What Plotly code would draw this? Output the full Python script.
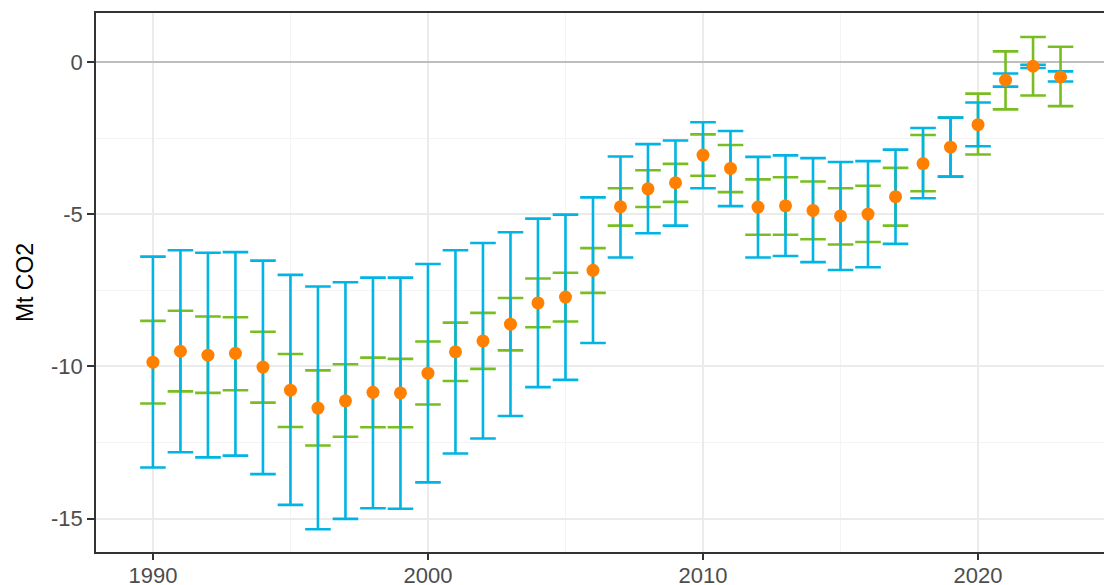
import plotly.graph_objects as go

years = list(range(1990, 2024))

estimate = [-9.86, -9.50, -9.63, -9.57, -10.02, -10.78, -11.37, -11.13, -10.85, -10.87,
            -10.22, -9.52, -9.16, -8.61, -7.91, -7.72, -6.84, -4.75, -4.16, -3.96,
            -3.05, -3.49, -4.76, -4.72, -4.87, -5.05, -4.99, -4.42, -3.33, -2.79,
            -2.05, -0.59, -0.13, -0.48]

blue_upper = [-6.39, -6.18, -6.26, -6.24, -6.52, -6.99, -7.37, -7.23, -7.08, -7.08,
              -6.63, -6.18, -5.94, -5.59, -5.14, -5.01, -4.44, -3.10, -2.69, -2.57,
              -1.97, -2.26, -3.11, -3.06, -3.15, -3.28, -3.25, -2.87, -2.16, -1.82,
              -1.32, -0.37, -0.08, -0.30]
blue_lower = [-13.32, -12.82, -12.99, -12.93, -13.54, -14.55, -15.35, -15.01, -14.66, -14.68,
              -13.81, -12.86, -12.37, -11.63, -10.68, -10.44, -9.23, -6.42, -5.62, -5.37,
              -4.14, -4.73, -6.42, -6.37, -6.57, -6.83, -6.74, -5.97, -4.47, -3.76,
              -2.76, -0.80, -0.19, -0.63]

green_upper = [-8.50, -8.17, -8.36, -8.38, -8.86, -9.59, -10.13, -9.93, -9.71, -9.75,
               -9.18, -8.56, -8.24, -7.75, -7.11, -6.92, -6.11, -4.14, -3.55, -3.34,
               -2.37, -2.72, -3.85, -3.78, -3.92, -4.14, -4.06, -3.47, -2.39, -1.82,
               -1.03, 0.36, 0.83, 0.51]
green_lower = [-11.22, -10.82, -10.87, -10.78, -11.19, -11.99, -12.60, -12.31, -12.00, -12.00,
               -11.25, -10.48, -10.08, -9.47, -8.71, -8.52, -7.58, -5.37, -4.76, -4.59,
               -3.73, -4.27, -5.67, -5.67, -5.82, -5.99, -5.91, -5.37, -4.24, -3.76,
               -3.03, -1.55, -1.09, -1.44]

x_ticks = [1990, 2000, 2010, 2020]
y_ticks = [0, -5, -10, -15]
y_title = "Mt CO2"

BLUE = "#00B4E3"
GREEN = "#78BE20"
ORANGE = "#FF8000"


def err_trace(upper, lower, color):
    return go.Scatter(
        x=years, y=estimate, mode="markers",
        marker=dict(size=1, opacity=0),
        error_y=dict(type="data", symmetric=False,
                     array=[u - e for u, e in zip(upper, estimate)],
                     arrayminus=[e - l for l, e in zip(lower, estimate)],
                     color=color, thickness=2.6, width=12.8),
        hoverinfo="skip", showlegend=False)


fig = go.Figure()
fig.add_trace(err_trace(green_upper, green_lower, GREEN))
fig.add_trace(err_trace(blue_upper, blue_lower, BLUE))
fig.add_trace(go.Scatter(x=years, y=estimate, mode="markers",
                         marker=dict(size=13, color=ORANGE, line=dict(width=0)),
                         showlegend=False))

fig.update_layout(
    width=1104, height=585,
    margin=dict(l=96, r=0, t=13, b=33, autoexpand=False),
    paper_bgcolor="white", plot_bgcolor="white",
    font=dict(family="Liberation Sans, Arial, sans-serif", size=22, color="#4D4D4D"),
    showlegend=False,
)
fig.update_xaxes(
    automargin=False,
    range=[1987.93, 2024.58],
    tickvals=x_ticks, ticktext=[str(v) for v in x_ticks],
    ticks="outside", ticklen=6, tickwidth=1.5, tickcolor="#333333",
    tickfont=dict(size=22, color="#4D4D4D"),
    ticklabelstandoff=-3,
    showgrid=True, gridcolor="#EBEBEB", gridwidth=1.6,
    minor=dict(tickvals=[1995, 2005, 2015], showgrid=True, gridcolor="#F4F4F4", gridwidth=0.9),
    showline=True, linecolor="#333333", linewidth=1.5, mirror=True,
    zeroline=False,
)
fig.update_yaxes(
    automargin=False,
    range=[-16.10, 1.62],
    tickvals=y_ticks, ticktext=[str(v) for v in y_ticks],
    ticks="outside", ticklen=7, tickwidth=1.5, tickcolor="#333333",
    tickfont=dict(size=22, color="#4D4D4D"),
    showgrid=True, gridcolor="#EBEBEB", gridwidth=1.6,
    minor=dict(tickvals=[-2.5, -7.5, -12.5], showgrid=True, gridcolor="#F4F4F4", gridwidth=0.9),
    showline=True, linecolor="#333333", linewidth=1.5, mirror=False,
    zeroline=True, zerolinecolor="#BEBEBE", zerolinewidth=2,
    title=dict(text=y_title, font=dict(size=23, color="black"), standoff=11),
)

fig.write_html("out.html",
               config={"displayModeBar": False},
               post_script="document.body.style.margin='0';document.body.style.padding='0';")
